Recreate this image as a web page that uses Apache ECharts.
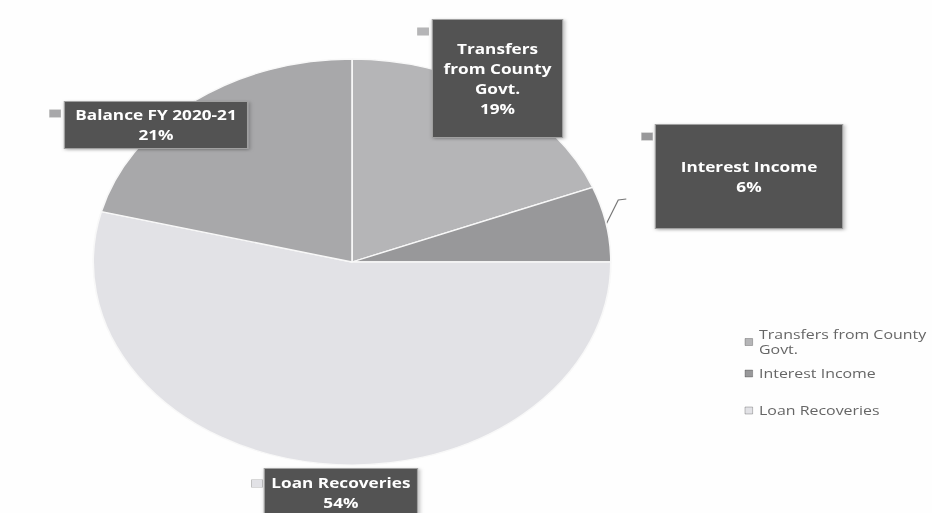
<!DOCTYPE html>
<html>
<head>
<meta charset="utf-8">
<script src="https://cdn.jsdelivr.net/npm/echarts@6/dist/echarts.min.js"></script>
<style>
html, body { margin: 0; padding: 0; background: #ffffff; }
#wrap { position: relative; width: 932px; height: 513px; overflow: hidden; background: #fefefe; }
#chart { position: absolute; left: 0; top: 0; width: 731px; height: 513px;
         transform: scaleX(1.275); transform-origin: 0 0; }
</style>
</head>
<body>
<div id="wrap"><div id="chart"></div></div>
<script>
// ---- data ----
const categories = ['Transfers from County Govt.', 'Interest Income', 'Loan Recoveries', 'Balance FY 2020-21'];
const labelTexts = ['Transfers\nfrom County\nGovt.', 'Interest Income', 'Loan Recoveries', 'Balance FY 2020-21'];
const legendTexts = ['Transfers from County\nGovt.', 'Interest Income', 'Loan Recoveries', 'Balance FY 2020-21'];
const values = [19, 6, 54, 21];
const legendGroupA = ['Transfers from County Govt.', 'Interest Income'];
const legendGroupB = ['Loan Recoveries'];

// ---- styles / placement (not data) ----
const sliceColors = ['#b5b5b7', '#98989a', '#e2e2e6', '#a8a8aa'];
const boxes = [
  { left: 339.6, top: 20,  width: 101.2, pad: [18.5, 0] },
  { left: 514.5, top: 125, width: 145.9, pad: [31.5, 0] },
  { left: 207.8, top: 469, width: 119.2, pad: [4, 0, 0, 0] },
  { left: 51,    top: 102, width: 142.7, pad: [3, 0] }
];
const markers = [
  { left: 327.8, top: 28 },
  { left: 503.5, top: 133 },
  { left: 197.6, top: 480 },
  { left: 39.2,  top: 110 }
];

const chart = echarts.init(document.getElementById('chart'), null, { renderer: 'svg' });

const pieBase = {
  type: 'pie',
  center: [276.1, 262],
  radius: 203,
  startAngle: 90,
  clockwise: true,
  avoidLabelOverlap: false,
  silent: true
};

const legendCommon = {
  orient: 'vertical',
  left: 584,
  padding: 0,
  icon: 'rect',
  itemWidth: 6,
  itemHeight: 7,
  selectedMode: false,
  itemStyle: { borderColor: 'rgba(0,0,0,0.35)', borderWidth: 0.6 },
  formatter: name => legendTexts[categories.indexOf(name)],
  textStyle: { fontFamily: 'Open Sans', fontSize: 12.5, lineHeight: 15, color: '#666' }
};

chart.setOption({
  animation: false,
  legend: [
    Object.assign({}, legendCommon, { top: 327, itemGap: 9, data: legendGroupA }),
    Object.assign({}, legendCommon, { top: 403, data: legendGroupB })
  ],
  series: [
    Object.assign({}, pieBase, {
      name: 'main',
      itemStyle: { borderColor: '#f8f8f8', borderWidth: 1.3 },
      label: {
        show: true,
        position: 'outside',
        formatter: p => labelTexts[p.dataIndex] + '\n' + Math.round(p.percent) + '%',
        color: '#ffffff',
        fontFamily: 'Open Sans',
        fontWeight: 'bold',
        fontSize: 13.5,
        lineHeight: 20,
        align: 'center',
        backgroundColor: '#525252',
        borderColor: '#a0a0a0',
        borderWidth: 1,
        shadowColor: 'rgba(0,0,0,0.3)',
        shadowBlur: 3,
        shadowOffsetX: 1,
        shadowOffsetY: 1
      },
      labelLine: { show: false },
      data: values.map((v, i) => ({
        name: categories[i],
        value: v,
        itemStyle: { color: sliceColors[i] },
        label: {
          width: boxes[i].width,
          padding: boxes[i].pad
        },
        labelLine: i === 1 ? { show: true, length: 10, length2: 5,
                               lineStyle: { color: '#777', width: 0.9 } } : { show: false }
      })),
      labelLayout: function (p) {
        const b = boxes[p.dataIndex];
        const res = {
          x: b.left + b.width / 2,
          y: b.top,
          align: 'center',
          verticalAlign: 'top'
        };
        if (p.dataIndex === 1 && p.labelLinePoints && p.labelLinePoints.length) {
          const s = p.labelLinePoints[0];
          res.labelLinePoints = [[s[0], s[1]], [s[0] + 9.4, s[1] - 24], [s[0] + 15.7, s[1] - 25]];
        }
        return res;
      }
    }),
    Object.assign({}, pieBase, {
      name: 'markers',
      itemStyle: { color: 'rgba(0,0,0,0)', borderWidth: 0 },
      labelLine: { show: false },
      label: {
        show: true,
        position: 'outside',
        formatter: '{m| }',
        width: 8,
        opacity: 1
      },
      data: values.map((v, i) => ({
        name: categories[i],
        value: v,
        label: {
          rich: {
            m: { width: 8, height: 7, backgroundColor: sliceColors[i],
                 borderColor: 'rgba(0,0,0,0.3)', borderWidth: 0.6 }
          }
        }
      })),
      labelLayout: function (p) {
        const m = markers[p.dataIndex];
        return { x: m.left, y: m.top, align: 'left', verticalAlign: 'top' };
      }
    })
  ]
});
</script>
</body>
</html>
